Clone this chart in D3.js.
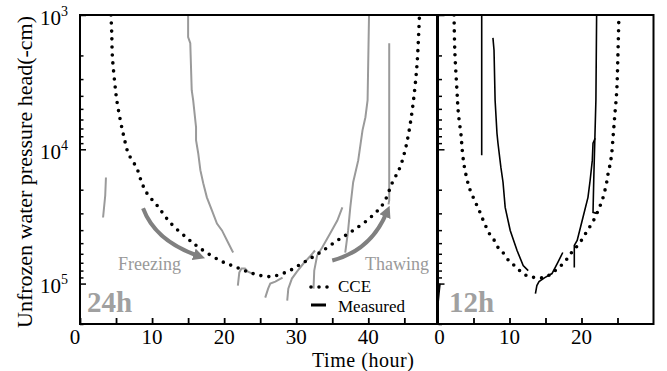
<!DOCTYPE html>
<html>
<head>
<meta charset="utf-8">
<script src="https://cdn.jsdelivr.net/npm/d3@7"></script>
<style>
  body { margin: 0; background: #fff; }
</style>
</head>
<body>
<script>
const width = 667;
const height = 371;

// tick positions
const ticksLeft = [0, 5, 10, 15, 20, 25, 30, 35, 40, 45];
const labelsLeft = [0, 10, 20, 30, 40];
const ticksRight = [0, 5, 10, 15, 20, 25];
const labelsRight = [0, 10, 20];
const yMajor = [1e3, 1e4, 1e5];
const yExp = ["3", "4", "5"];
const yMinor = [2e3, 3e3, 4e3, 5e3, 6e3, 7e3, 8e3, 9e3,
                2e4, 3e4, 4e4, 5e4, 6e4, 7e4, 8e4, 9e4, 2e5];

// CCE curves [time (hour), pressure head (-cm)]
const cce24 = [[4.3,1000],[4.4,1360],[4.5,2060],[4.9,3500],[5.1,4300],[5.6,6100],
  [6.1,8100],[6.7,10700],[7.9,13900],[8.6,17900],[9.3,21300],[10.7,26200],[12.5,35100],
  [14.9,46100],[16.7,54800],[19.4,67300],[21.8,76000],[24.0,84200],[26.4,88700],
  [28.8,81400],[31.0,69700],[33.3,58700],[35.7,47800],[37.9,40200],[40.3,32200],
  [42.1,25300],[43.3,17900],[44.4,13600],[45.1,10200],[45.6,7600],[46.1,5100],
  [46.5,3330],[46.8,2170],[47.1,1000]];

const cce12 = [[2.3,1000],[2.4,1830],[2.7,3630],[2.9,5390],[3.3,8130],[3.4,9660],
  [3.7,13200],[4.2,17600],[4.5,19900],[5.4,25700],[5.9,29500],[6.3,33300],[7.2,42400],
  [7.9,47800],[8.5,54800],[9.2,59700],[10.1,69700],[10.9,74700],[11.7,82800],
  [12.7,88700],[13.8,90200],[14.9,90200],[15.8,84200],[16.7,77300],[17.7,68500],
  [18.4,60800],[19.1,54800],[19.8,49400],[20.4,43800],[21.0,38900],[21.6,34500],
  [22.2,29500],[22.6,26200],[23.0,22800],[23.5,17600],[23.7,15100],[24.0,12700],
  [24.2,10700],[24.4,7900],[24.6,5800],[24.9,3630],[25.05,2060],[25.2,1000]];

// measured segments, 24h cycle
const measured24 = [
  [[3.6,16200],[3.5,22100],[3.2,32200]],
  [[15.0,1000],[15.0,1460],[15.3,1620],[15.5,3630],[15.7,4310],[16.1,6850],[16.1,8570],
   [16.4,10700],[16.7,14300],[17.1,17900],[17.6,22800],[18.3,28500],[19.0,35700],
   [19.7,40200],[20.4,47800],[21.1,56700],[21.25,58700]],
  [[21.9,103500],[22.1,82800],[22.4,77300],[22.9,77300],[23.3,81400],[23.9,84200]],
  [[25.7,127200],[26.1,109000],[26.4,100000],[27.1,96600],[28.1,90200]],
  [[28.75,134000],[28.9,109000],[29.4,91800],[30.1,81400],[31.0,70900],[31.9,62900],[32.6,56700]],
  [[32.4,109000],[32.5,80000],[32.9,61800],[33.6,53900],[34.7,42400],[35.7,33900],[36.4,27100]],
  [[36.8,58700],[37.2,40200],[37.5,27100],[37.9,17600],[38.6,12100],[39.2,7200],
   [39.6,5770],[39.9,4310],[40.0,2060],[40.1,1000]],
  [[42.9,1620],[42.9,24000],[42.8,25700]]
];

// measured segments, 12h cycle
const measured12 = [
  [[0.35,100000],[0.2,118700],[0.07,141000]],
  [[6.14,1000],[6.14,11100]],
  [[7.7,1480],[7.85,1830],[8.0,4310],[8.26,7600],[8.4,9020],[8.8,13600],[9.1,17600],
   [9.4,27100],[10.1,40200],[11.05,56700],[11.9,73400],[12.6,80000]],
  [[13.6,118700],[13.8,103500],[14.1,96600],[14.9,90200],[15.9,84200],[16.7,69700],[17.4,58700]],
  [[19.0,76000],[19.0,52000],[19.4,47800],[20.2,32200],[20.9,22800],[21.2,17000],
   [21.5,12100],[21.6,9020],[21.9,8280]],
  [[22.1,1000],[22.0,4310],[21.7,17000],[21.6,29500],[22.1,30000]]
];

// arrow paths [start, control, end] in data units
const freezeArrow = [[8.75,27500],[10.4,47800],[16.25,61800]];
const thawArrow = [[35.0,67300],[40.3,56700],[42.5,30000]];

const serif = "'Liberation Serif', 'Times New Roman', Times, serif";

const svg = d3.select("body")
  .append("svg")
  .attr("width", width)
  .attr("height", height)
  .style("font-family", serif);

const pTop = 15, pBottom = 324, pLeft = 80, pMid = 437.5, pRight = 653.5;

const xLeft = d3.scaleLinear().domain([0, 49.6]).range([pLeft, pMid]);
const xRight = d3.scaleLinear().domain([0, 30]).range([pMid, pRight]);
const y = d3.scaleLog().domain([1e3, 2e5]).range([pTop, pBottom]);

const defs = svg.append("defs");
defs.append("clipPath").attr("id", "clipL")
  .append("rect").attr("x", pLeft).attr("y", pTop).attr("width", pMid - pLeft).attr("height", pBottom - pTop);
defs.append("clipPath").attr("id", "clipR")
  .append("rect").attr("x", pMid).attr("y", pTop).attr("width", pRight - pMid).attr("height", pBottom - pTop);
defs.append("marker")
  .attr("id", "head")
  .attr("viewBox", "0 0 10 10")
  .attr("refX", 3).attr("refY", 5)
  .attr("markerWidth", 12).attr("markerHeight", 12)
  .attr("markerUnits", "userSpaceOnUse")
  .attr("orient", "auto")
  .append("path").attr("d", "M0,0 L10,5 L0,10 z").attr("fill", "#808080");

// measured lines
const lineL = d3.line().x(d => xLeft(d[0])).y(d => y(d[1]));
const lineR = d3.line().x(d => xRight(d[0])).y(d => y(d[1]));

const gL = svg.append("g").attr("clip-path", "url(#clipL)");
const gR = svg.append("g").attr("clip-path", "url(#clipR)");

gL.selectAll(".m24")
  .data(measured24)
  .enter()
  .append("path")
  .attr("d", lineL)
  .attr("fill", "none")
  .attr("stroke", "#9a9a9a")
  .attr("stroke-width", 2);

gR.selectAll(".m12")
  .data(measured12)
  .enter()
  .append("path")
  .attr("d", lineR)
  .attr("fill", "none")
  .attr("stroke", "#000")
  .attr("stroke-width", 1.6);

// CCE dotted curves
const dotted = (g, line, data) => g.append("path")
  .attr("d", line.curve(d3.curveCatmullRom.alpha(0.5))(data))
  .attr("fill", "none")
  .attr("stroke", "#000")
  .attr("stroke-width", 3.6)
  .attr("stroke-linecap", "round")
  .attr("stroke-dasharray", "0,8");

dotted(gL, d3.line().x(d => xLeft(d[0])).y(d => y(d[1])), cce24);
dotted(gR, d3.line().x(d => xRight(d[0])).y(d => y(d[1])), cce12);

// arrows
function arrow(pts) {
  const p = d3.path();
  p.moveTo(xLeft(pts[0][0]), y(pts[0][1]));
  p.quadraticCurveTo(xLeft(pts[1][0]), y(pts[1][1]), xLeft(pts[2][0]), y(pts[2][1]));
  return p.toString();
}
[freezeArrow, thawArrow].forEach(a => {
  svg.append("path")
    .attr("d", arrow(a))
    .attr("fill", "none")
    .attr("stroke", "#808080")
    .attr("stroke-width", 4)
    .attr("marker-end", "url(#head)");
});

svg.append("text").attr("x", 118).attr("y", 270)
  .attr("font-size", 18).attr("fill", "#999").text("Freezing");
svg.append("text").attr("x", 365).attr("y", 270)
  .attr("font-size", 18).attr("fill", "#999").text("Thawing");

// frame
svg.append("rect")
  .attr("x", pLeft).attr("y", pTop)
  .attr("width", pRight - pLeft).attr("height", pBottom - pTop)
  .attr("fill", "none").attr("stroke", "#000").attr("stroke-width", 2);
svg.append("line")
  .attr("x1", pMid).attr("x2", pMid).attr("y1", pTop).attr("y2", pBottom)
  .attr("stroke", "#000").attr("stroke-width", 3);

// y ticks (inward)
function yTicks(x) {
  svg.append("g").attr("transform", `translate(${x},0)`)
    .call(d3.axisRight(y).tickValues(yMinor).tickSize(3.5).tickFormat(""))
    .call(g => g.select(".domain").remove())
    .selectAll("line").attr("stroke-width", 1.5);
  svg.append("g").attr("transform", `translate(${x},0)`)
    .call(d3.axisRight(y).tickValues(yMajor).tickSize(6).tickFormat(""))
    .call(g => g.select(".domain").remove())
    .selectAll("line").attr("stroke-width", 1.5);
}
yTicks(pLeft);
yTicks(pMid + 1);

// x ticks (inward)
svg.append("g").attr("transform", `translate(0,${pBottom})`)
  .call(d3.axisTop(xLeft).tickValues(ticksLeft).tickSize(6).tickFormat(""))
  .call(g => g.select(".domain").remove())
  .selectAll("line").attr("stroke-width", 1.8);
svg.append("g").attr("transform", `translate(0,${pBottom})`)
  .call(d3.axisTop(xRight).tickValues(ticksRight).tickSize(6).tickFormat(""))
  .call(g => g.select(".domain").remove())
  .selectAll("line").attr("stroke-width", 1.8);

// tick labels
svg.selectAll(".xl")
  .data(labelsLeft)
  .enter()
  .append("text")
  .attr("x", d => xLeft(d) - (d === 0 ? 5 : 0))
  .attr("y", 344)
  .attr("text-anchor", "middle")
  .attr("font-size", 21)
  .text(d => d);
svg.selectAll(".xr")
  .data(labelsRight)
  .enter()
  .append("text")
  .attr("x", d => xRight(d) + (d === 0 ? 2 : 0))
  .attr("y", 344)
  .attr("text-anchor", "middle")
  .attr("font-size", 21)
  .text(d => d);

const yl = svg.selectAll(".yl")
  .data(yMajor)
  .enter()
  .append("text")
  .attr("x", 68)
  .attr("y", d => y(d) + 9.5)
  .attr("text-anchor", "end")
  .attr("font-size", 21);
yl.append("tspan").text("10");
yl.append("tspan").attr("dy", -9).attr("font-size", 14).text((d, i) => yExp[i]);

// axis titles
svg.append("text")
  .attr("transform", "translate(32,172) rotate(-90)")
  .attr("text-anchor", "middle")
  .attr("font-size", 21)
  .attr("textLength", 312)
  .attr("lengthAdjust", "spacingAndGlyphs")
  .text("Unfrozen water pressure head(-cm)");
svg.append("text")
  .attr("x", 363).attr("y", 367)
  .attr("text-anchor", "middle")
  .attr("font-size", 20)
  .attr("textLength", 102)
  .text("Time (hour)");

// cycle labels
svg.append("text").attr("x", 87).attr("y", 312)
  .attr("font-size", 29).attr("font-weight", "bold").attr("fill", "#a0a0a0").text("24h");
svg.append("text").attr("x", 449).attr("y", 312)
  .attr("font-size", 29).attr("font-weight", "bold").attr("fill", "#a0a0a0").text("12h");

// legend
svg.append("line").attr("x1", 311).attr("x2", 328).attr("y1", 287).attr("y2", 287)
  .attr("stroke", "#000").attr("stroke-width", 3.6)
  .attr("stroke-linecap", "round").attr("stroke-dasharray", "0,8");
svg.append("text").attr("x", 338).attr("y", 292).attr("font-size", 17).text("CCE");
svg.append("line").attr("x1", 311).attr("x2", 326).attr("y1", 305).attr("y2", 305)
  .attr("stroke", "#000").attr("stroke-width", 3);
svg.append("text").attr("x", 338).attr("y", 311.5).attr("font-size", 17).text("Measured");
</script>
</body>
</html>
